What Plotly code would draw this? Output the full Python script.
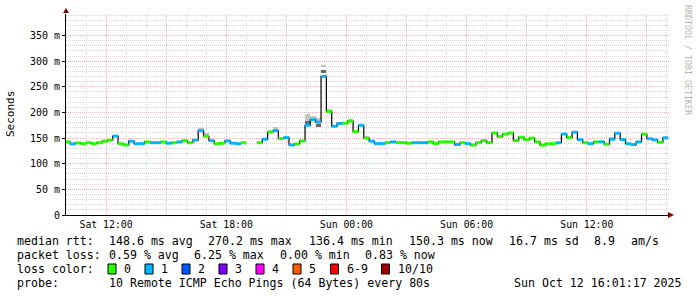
import plotly.graph_objects as go
import pandas as pd

# ---------------- data ----------------
step_start = "2025-10-11 09:56:00"   # first consolidated step
step_minutes = 16

median_ms = [
    142.6, 138.7, 140.6, 139.0, 141.0, 139.0, 141.0, 144.0, 146.0, 154.0,
    139.0, 136.7, 144.0, 139.0, 139.0, 142.6, 141.0, 141.0, 142.6, 140.0,
    141.0, 142.6, 145.0, 141.0, 146.0, 164.6, 153.6, 145.0, 139.0, 140.0,
    144.5, 140.0, 139.0, 141.0, None, None, 141.0, 147.8, 161.5, 164.6,
    149.0, 151.0, 136.7, 138.7, 144.5, 175.0, 186.0, 181.0, 270.2, 201.8,
    173.0, 178.5, 179.0, 183.0, 162.7, 175.0, 149.8, 144.0, 139.3, 139.3,
    141.2, 142.6, 141.2, 141.2, 140.0, 141.0, 141.0, 141.0, 142.6, 139.3,
    142.6, 142.6, 142.6, 137.4, 141.0, 139.3, 136.4, 141.0, 145.0, 141.0,
    160.0, 153.0, 157.6, 160.0, 145.0, 151.7, 147.0, 150.0, 142.6, 136.4,
    139.0, 139.0, 141.0, 158.0, 151.0, 161.5, 147.0, 141.0, 139.0, 142.6,
    143.0, 138.0, 147.7, 159.5, 147.0, 139.0, 137.4, 142.6, 157.6, 148.8,
    146.5, 141.8, 150.3,
]

loss_count = [
    0, 1, 0, 0, 0, 0, 0, 0, 0, 1,
    0, 0, 1, 1, 1, 0, 1, 1, 0, 1,
    0, 1, 0, 0, 1, 1, 0, 1, 0, 0,
    1, 1, 1, 0, None, None, 0, 1, 0, 1,
    0, 1, 1, 0, 0, 1, 1, 1, 1, 0,
    1, 1, 0, 0, 0, 1, 0, 1, 1, 1,
    0, 1, 0, 0, 0, 1, 1, 1, 0, 0,
    0, 0, 0, 1, 0, 1, 0, 0, 0, 0,
    0, 0, 0, 0, 0, 0, 0, 0, 0, 0,
    0, 0, 1, 1, 0, 1, 1, 0, 1, 0,
    1, 0, 1, 1, 1, 1, 1, 1, 0, 1,
    1, 0, 1,
]

# smoke (ping spread) bands: step index, low, high, shade
smoke_step = [14, 25, 26, 38, 39, 41, 45, 45, 46, 47, 47, 48, 48, 49, 53, 56, 102, 104, 112]
smoke_lo   = [139, 164, 153, 161, 164, 151, 177, 184, 186, 172, 182, 277, 288, 202, 183, 150, 148, 147, 151]
smoke_hi   = [142.5, 170, 159, 165, 171, 155, 184, 197, 194, 178, 190, 282, 292, 207, 186.5, 154, 153, 151, 155]
smoke_dark = [0, 0, 0, 0, 0, 0, 1, 0, 0, 1, 0, 1, 0, 0, 0, 0, 0, 0, 0]

loss_labels = ["0", "1", "2", "3", "4", "5", "6-9", "10/10"]
loss_colors = ["#26ff00", "#00b8ff", "#0059ff", "#7e00ff", "#ff00ff", "#ff5e00", "#ff0000", "#a10000"]

y_tick_vals = [0, 50, 100, 150, 200, 250, 300, 350]
y_tick_text = ["0", "50 m", "100 m", "150 m", "200 m", "250 m", "300 m", "350 m"]

x_tick_vals = ["2025-10-11 12:00", "2025-10-11 15:00", "2025-10-11 18:00", "2025-10-11 21:00",
               "2025-10-12 00:00", "2025-10-12 03:00", "2025-10-12 06:00", "2025-10-12 09:00",
               "2025-10-12 12:00", "2025-10-12 15:00"]
x_tick_text = ["Sat 12:00", "", "Sat 18:00", "", "Sun 00:00", "", "Sun 06:00", "", "Sun 12:00", ""]

stats_rtt = ["148.6 ms avg", "270.2 ms max", "136.4 ms min", "150.3 ms now", "16.7 ms sd", "8.9", "am/s"]
stats_loss = ["0.59 % avg", "6.25 % max", "0.00 % min", "0.83 % now"]
probe_text = "10 Remote ICMP Echo Pings (64 Bytes) every 80s"
stamp_text = "Sun Oct 12 16:01:17 2025"

# ---------------- geometry ----------------
W, H = 697, 297
L, R, T, B = 66, 27, 14, 82
PW, PH = W - L - R, H - T - B
def px(x):
    return (x - L) / PW
def py(y):
    return (H - B - y) / PH

t0 = pd.Timestamp(step_start)
dt = pd.Timedelta(minutes=step_minutes)
times = [t0 + dt * i for i in range(len(median_ms) + 1)]
width_ms = step_minutes * 60 * 1000

fig = go.Figure()

# smoke
for dark in (0, 1):
    idx = [k for k in range(len(smoke_step)) if smoke_dark[k] == dark]
    fig.add_trace(go.Bar(
        x=[times[smoke_step[k]] for k in idx],
        base=[smoke_lo[k] for k in idx],
        y=[smoke_hi[k] - smoke_lo[k] for k in idx],
        width=width_ms, offset=0,
        marker=dict(color="#6a6a6a" if dark else "#c4c4c4", line=dict(width=0)),
        hoverinfo="skip", showlegend=False,
    ))

# black median step line
fig.add_trace(go.Scatter(
    x=times, y=median_ms + [median_ms[-1]], mode="lines",
    line=dict(color="#000000", width=1.2, shape="hv"),
    connectgaps=False, hoverinfo="skip", showlegend=False,
))

# coloured median segments by loss
for c, col in enumerate(loss_colors):
    xs, ys = [], []
    for i, v in enumerate(median_ms):
        if v is None or loss_count[i] != c:
            continue
        xs += [times[i], times[i + 1], None]
        ys += [v, v, None]
    if xs:
        fig.add_trace(go.Scatter(x=xs, y=ys, mode="lines",
                                 line=dict(color=col, width=3),
                                 hoverinfo="skip", showlegend=False))

mono = "DejaVu Sans Mono"
major_grid = "#f0b4b4"
minor_grid = "#d6d6d6"

fig.update_layout(
    width=W, height=H,
    margin=dict(l=L, r=R, t=T, b=B, pad=0),
    paper_bgcolor="white", plot_bgcolor="white",
    barmode="overlay", bargap=0,
    showlegend=False,
    font=dict(family=mono, size=10, color="black"),
    xaxis=dict(
        type="date",
        range=["2025-10-11 10:00:00", "2025-10-12 16:09:18"],
        tickmode="array", tickvals=x_tick_vals, ticktext=x_tick_text,
        showgrid=True, gridcolor=major_grid, griddash="1px,1px", gridwidth=1,
        minor=dict(tickmode="linear", tick0="2025-10-11 00:00", dtick=3600000, showgrid=True,
                   gridcolor=minor_grid, griddash="1px,1px", gridwidth=1),
        showline=True, linecolor="black", linewidth=1,
        ticks="", tickfont=dict(family=mono, size=9.8, color="black"),
        zeroline=False, fixedrange=True,
    ),
    yaxis=dict(
        range=[0, 392],
        tickmode="array", tickvals=y_tick_vals, ticktext=y_tick_text,
        showgrid=True, gridcolor=major_grid, griddash="1px,1px", gridwidth=1,
        minor=dict(tickmode="linear", tick0=0, dtick=10, showgrid=True, gridcolor=minor_grid,
                   griddash="1px,1px", gridwidth=1),
        showline=True, linecolor="black", linewidth=1,
        ticks="outside", ticklen=3, tickcolor="black",
        tickfont=dict(family=mono, size=10, color="black"),
        zeroline=False, fixedrange=True,
    ),
)

# axis arrows
arrow_col = "#800000"
fig.add_shape(type="path", xref="paper", yref="paper",
              path=f"M {px(L-3)} {py(13)} L {px(L+3)} {py(13)} L {px(L)} {py(8)} Z",
              fillcolor=arrow_col, line=dict(width=0))
fig.add_shape(type="path", xref="paper", yref="paper",
              path=f"M {px(668)} {py(212)} L {px(668)} {py(218)} L {px(674)} {py(215)} Z",
              fillcolor=arrow_col, line=dict(width=0))

def text(x, y, s, size=11.6, color="black", angle=0, anchor="left"):
    fig.add_annotation(x=px(x), y=py(y), xref="paper", yref="paper", text=s,
                       showarrow=False, xanchor=anchor, yanchor="middle",
                       textangle=angle, borderpad=0,
                       font=dict(family=mono, size=size, color=color))

# y-axis title and watermark
text(11, 114, "Seconds", size=11, angle=-90, anchor="center")
text(688, 60, "RRDTOOL / TOBI OETIKER", size=8.3, color="#b4b4b4", angle=90, anchor="center")

# legend lines
rtt_x = [108, 207, 308, 408, 508, 593, 630]
text(16, 241, "median rtt:")
for x, s in zip(rtt_x, stats_rtt):
    text(x, 241, s)
loss_x = [108, 193, 279, 364]
text(16, 255, "packet loss:")
for x, s in zip(loss_x, stats_loss):
    text(x, 255, s)
text(16, 269, "loss color:")
box_x = [108, 145, 182, 219, 256, 293, 330.5, 381.5]
for x, lab, col in zip(box_x, loss_labels, loss_colors):
    fig.add_shape(type="rect", xref="paper", yref="paper",
                  x0=px(x), x1=px(x + 8), y0=py(264), y1=py(274),
                  fillcolor=col, line=dict(color="black", width=1))
    text(x + 15, 269, lab)
text(16, 283, "probe:")
text(108, 283, probe_text)
text(513, 283, stamp_text)

fig.write_html("out.html")
